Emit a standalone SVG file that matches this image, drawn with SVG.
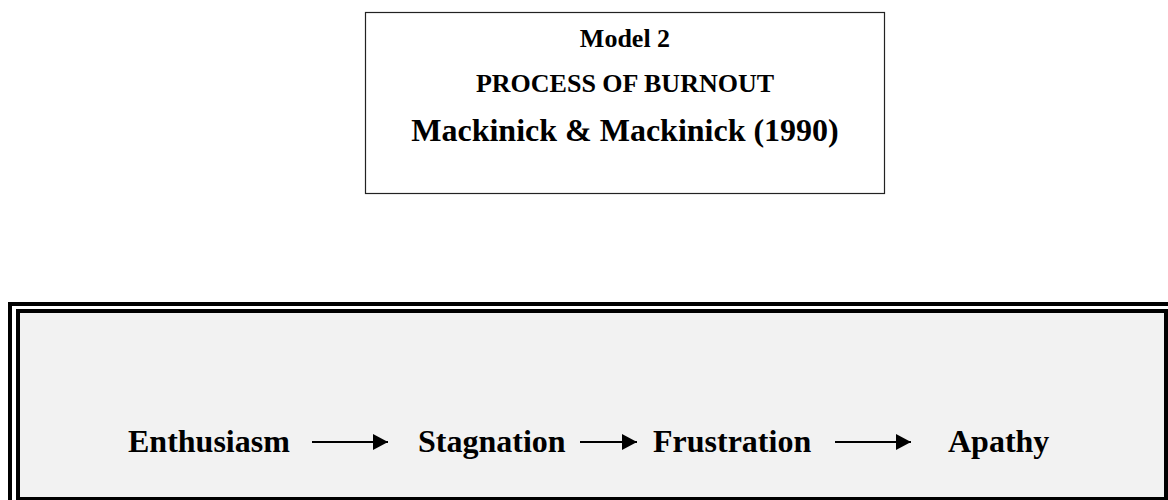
<svg xmlns="http://www.w3.org/2000/svg" width="1168" height="500" viewBox="0 0 1168 500">
<style>
.t{font-family:"Liberation Serif","Times New Roman",serif;font-weight:bold;fill:#000}
.top{font-size:26px;text-anchor:middle}
.big{font-size:32px;text-anchor:middle}
.step{font-size:32px}
.conn{stroke:#000;stroke-width:2;fill:none}
</style>
<defs>
<marker id="ah" markerWidth="16" markerHeight="16" viewBox="0 0 16 16" refX="15" refY="8" orient="auto" markerUnits="userSpaceOnUse">
<path d="M0,0 L15,8 L0,16 Z" fill="#000"/>
</marker>
</defs>
<rect width="1168" height="500" fill="#fff"/>
<g id="title">
<rect x="365.5" y="12.5" width="519" height="181" fill="#fff" stroke="#222" stroke-width="1.2"/>
<text class="t top" x="625" y="47">Model 2</text>
<text class="t top" x="625" y="92">PROCESS OF BURNOUT</text>
<text class="t big" x="625" y="141">Mackinick &amp; Mackinick (1990)</text>
</g>
<g id="frame">
<rect x="10" y="304" width="1180" height="220" fill="#fff" stroke="#000" stroke-width="4"/>
<rect x="18" y="311" width="1148" height="188" fill="#f2f2f2" stroke="#000" stroke-width="4"/>
</g>
<g id="enthusiasm"><text class="t step" x="128" y="452">Enthusiasm</text></g>
<g id="stagnation"><text class="t step" x="418" y="452">Stagnation</text></g>
<g id="frustration"><text class="t step" x="653" y="452">Frustration</text></g>
<g id="apathy"><text class="t step" x="948" y="452">Apathy</text></g>
<g id="connectors">
<line class="conn" x1="312" y1="442" x2="388" y2="442" marker-end="url(#ah)"/>
<line class="conn" x1="580" y1="442" x2="637" y2="442" marker-end="url(#ah)"/>
<line class="conn" x1="835" y1="442" x2="911" y2="442" marker-end="url(#ah)"/>
</g>
</svg>
